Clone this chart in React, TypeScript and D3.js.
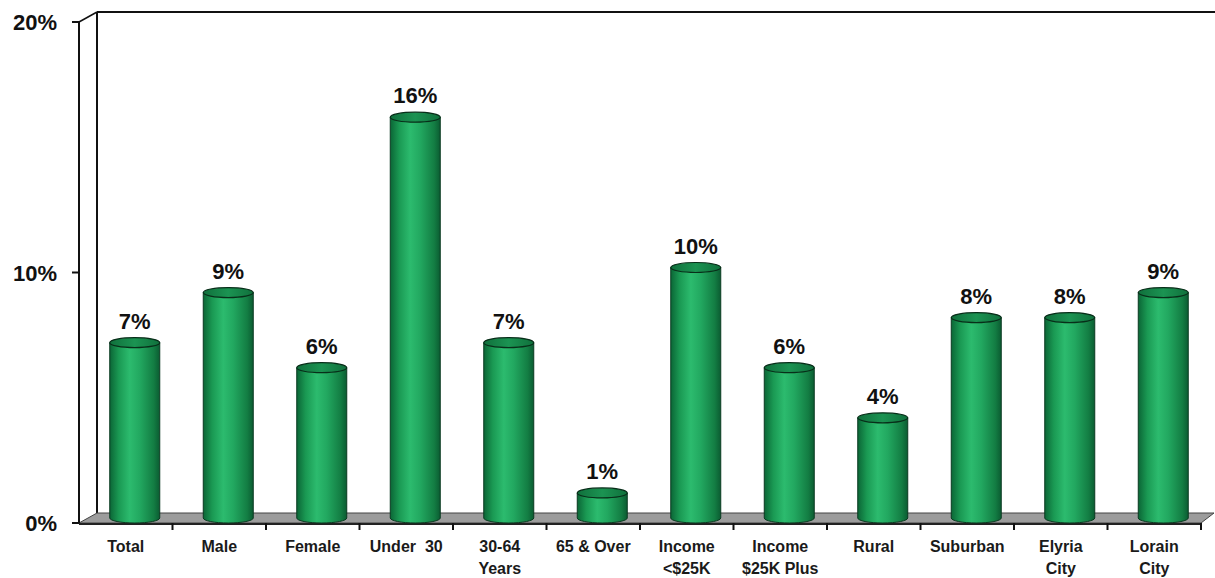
import React from "react";
import * as d3 from "d3";

const categories: string[][] = [
  ["Total"],
  ["Male"],
  ["Female"],
  ["Under  30"],
  ["30-64", "Years"],
  ["65 & Over"],
  ["Income", "<$25K"],
  ["Income", "$25K Plus"],
  ["Rural"],
  ["Suburban"],
  ["Elyria", "City"],
  ["Lorain", "City"],
];
const values: number[] = [7, 9, 6, 16, 7, 1, 10, 6, 4, 8, 8, 9];
const yTicks: number[] = [0, 10, 20];

const W = 1215;
const H = 578;
const left = 79;
const right = 1201;
const base = 523;
const top = 22;
const DX = 18;
const DY = -10;

export default function App() {
  const keys = categories.map((c) => c.join(" "));
  const x = d3.scaleBand<string>().domain(keys).range([left, right]).padding(0);
  const y = d3.scaleLinear().domain([0, 20]).range([base, top]);
  const bw = x.bandwidth();
  const rx = 25;
  const ry = 5;
  const font = "Liberation Sans, Arial, sans-serif";

  return (
    <svg
      width={W}
      height={H}
      style={{ position: "absolute", left: 0, top: 0, background: "#fff" }}
      fontFamily={font}
    >
      <defs>
        <linearGradient id="cyl" x1="0" x2="1" y1="0" y2="0">
          <stop offset="0" stopColor="#0b6636" />
          <stop offset="0.18" stopColor="#1a9953" />
          <stop offset="0.4" stopColor="#2cbb6e" />
          <stop offset="0.6" stopColor="#22a860" />
          <stop offset="0.88" stopColor="#137d43" />
          <stop offset="1" stopColor="#0b5c32" />
        </linearGradient>
        <linearGradient id="capg" x1="0" x2="1" y1="0" y2="0">
          <stop offset="0" stopColor="#10703c" />
          <stop offset="0.5" stopColor="#1b9352" />
          <stop offset="1" stopColor="#10703c" />
        </linearGradient>
      </defs>

      {/* back wall top and back vertical */}
      <line x1={left + DX} y1={top + DY} x2={W} y2={top + DY} stroke="#111" strokeWidth={2} />
      <line x1={left + DX} y1={top + DY} x2={left + DX} y2={base + DY} stroke="#111" strokeWidth={2} />
      <line x1={left} y1={top} x2={left + DX} y2={top + DY} stroke="#111" strokeWidth={1.5} />

      {/* floor */}
      <polygon
        points={`${left},${base} ${right},${base} ${right + 13},${base + DY} ${left + DX},${base + DY}`}
        fill="#9c9c9c"
        stroke="#444"
        strokeWidth={1}
      />
      <line x1={left} y1={base + 1} x2={right} y2={base + 1} stroke="#222" strokeWidth={2} />

      {/* front axis */}
      <line x1={left} y1={top} x2={left} y2={base} stroke="#111" strokeWidth={2} />
      {yTicks.map((t) => (
        <g key={t}>
          <line x1={left - 7} y1={y(t)} x2={left} y2={y(t)} stroke="#111" strokeWidth={2} />
          <text
            x={57}
            y={y(t) + 8}
            textAnchor="end"
            fontSize={22}
            fontWeight="bold"
            fill="#111"
          >
            {t}%
          </text>
        </g>
      ))}
      {/* x ticks */}
      {keys.map((k, i) =>
        i === 0 ? null : (
          <line key={k} x1={x(k)!} y1={base} x2={x(k)!} y2={base + 7} stroke="#111" strokeWidth={2} />
        )
      )}
      <line x1={right} y1={base} x2={right} y2={base + 7} stroke="#111" strokeWidth={2} />

      {/* bars */}
      {keys.map((k, i) => {
        const cx = x(k)! + bw / 2 + DX / 2;
        const yb = base + DY / 2;
        const yt = y(values[i]) + DY / 2;
        return (
          <g key={k}>
            <path
              d={`M${cx - rx},${yt} L${cx - rx},${yb} A${rx},${ry} 0 0 0 ${cx + rx},${yb} L${cx + rx},${yt} Z`}
              fill="url(#cyl)"
              stroke="#0a3a20"
              strokeWidth={1}
            />
            <ellipse cx={cx} cy={yt} rx={rx} ry={ry} fill="url(#capg)" stroke="#082e19" strokeWidth={1.2} />
            <text
              x={cx}
              y={yt - 14}
              textAnchor="middle"
              fontSize={22}
              fontWeight="bold"
              fill="#111"
            >
              {values[i]}%
            </text>
          </g>
        );
      })}

      {/* category labels */}
      {categories.map((c, i) => {
        const cx = x(keys[i])! + bw / 2;
        return (
          <text
            key={i}
            textAnchor="middle"
            fontSize={16}
            fontWeight="bold"
            fill="#1a1a1a"
            style={{ whiteSpace: "pre" }}
          >
            {c.map((line, j) => (
              <tspan key={j} x={cx} y={552 + j * 22}>
                {line}
              </tspan>
            ))}
          </text>
        );
      })}
    </svg>
  );
}
